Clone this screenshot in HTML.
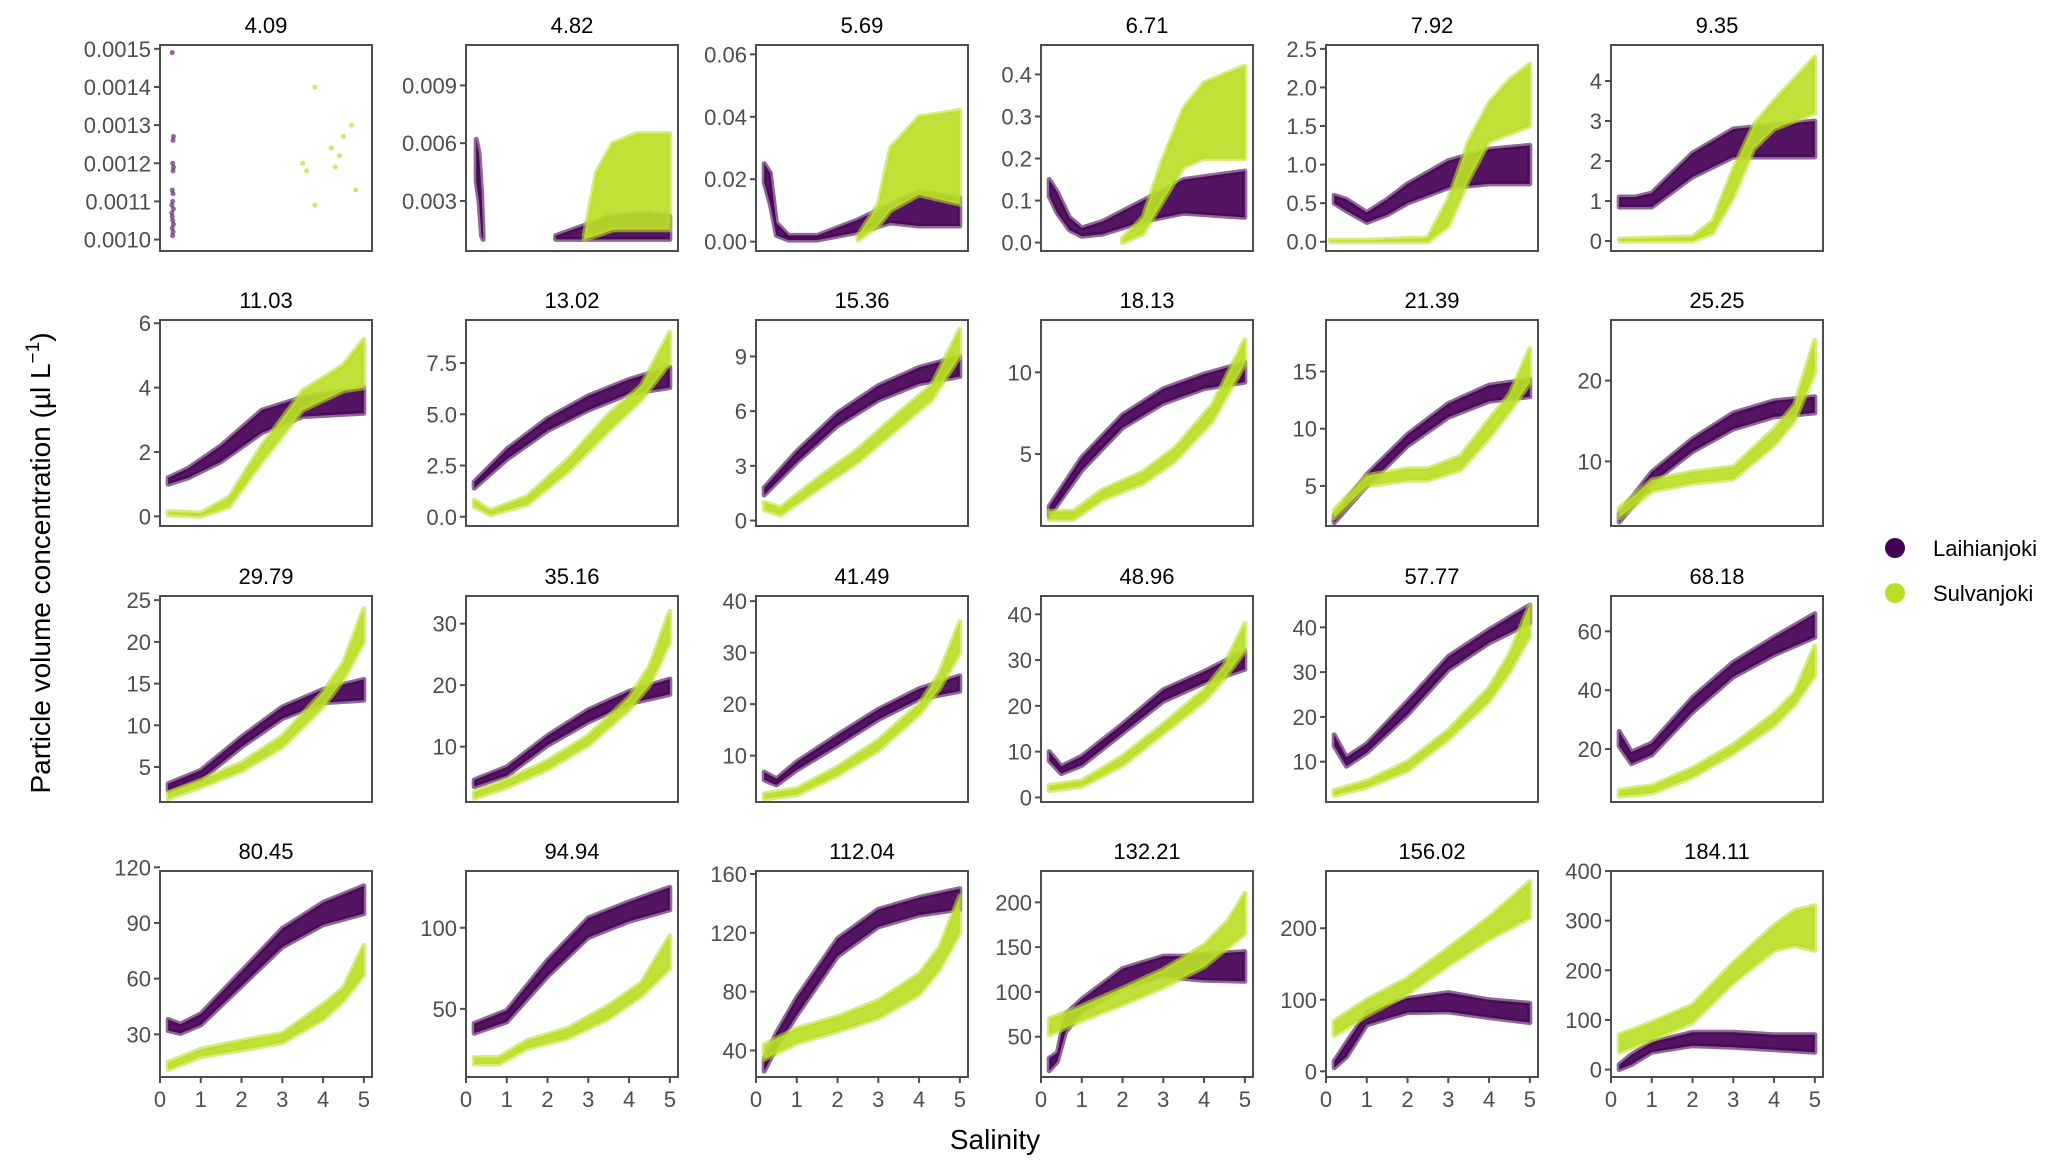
<!DOCTYPE html>
<html><head><meta charset="utf-8">
<style>
html,body{margin:0;padding:0;background:#fff;}
svg{display:block;}
text{font-family:"Liberation Sans",Arial,sans-serif;}
</style></head>
<body>
<svg id="chart" width="2067" height="1165" viewBox="0 0 2067 1165" xmlns="http://www.w3.org/2000/svg">
<rect width="2067" height="1165" fill="#fff"/>
<g id="panels"></g>
<text x="995" y="1149" font-size="28" text-anchor="middle" fill="#000">Salinity</text>
<text transform="translate(50,563) rotate(-90)" font-size="28" text-anchor="middle" fill="#000">Particle volume concentration (µl L<tspan dy="-11" font-size="19">−1</tspan><tspan dy="11">)</tspan></text>
<g>
<g><circle cx="1895" cy="548" r="10" fill="#440154"/><text x="1933" y="556" font-size="22" fill="#000">Laihianjoki</text></g>
<g><circle cx="1895" cy="593" r="10" fill="#BBDF27"/><text x="1933" y="601" font-size="22" fill="#000">Sulvanjoki</text></g>
</g>
</svg>
<script>
const panelTitles=["4.09","4.82","5.69","6.71","7.92","9.35","11.03","13.02","15.36","18.13","21.39","25.25","29.79","35.16","41.49","48.96","57.77","68.18","80.45","94.94","112.04","132.21","156.02","184.11"];
const yDomains=[[0.00097,0.00151],[0.0004,0.0111],[-0.003,0.063],[-0.02,0.47],[-0.12,2.55],[-0.25,4.9],[-0.3,6.1],[-0.45,9.6],[-0.3,11],[0.6,13.2],[1.5,19.5],[2,27.5],[0.8,25.5],[1,34.5],[1,41],[-1,44],[1,47],[2,72],[7,118],[8,135],[22,162],[5,235],[-8,280],[-15,400]];
const yTicks=[[0.0010,0.0011,0.0012,0.0013,0.0014,0.0015],[0.003,0.006,0.009],[0,0.02,0.04,0.06],[0,0.1,0.2,0.3,0.4],[0,0.5,1,1.5,2,2.5],[0,1,2,3,4],[0,2,4,6],[0,2.5,5,7.5],[0,3,6,9],[5,10],[5,10,15],[10,20],[5,10,15,20,25],[10,20,30],[10,20,30,40],[0,10,20,30,40],[10,20,30,40],[20,40,60],[30,60,90,120],[50,100],[40,80,120,160],[50,100,150,200],[0,100,200],[0,100,200,300,400]];
const yTickLabels=[["0.0010","0.0011","0.0012","0.0013","0.0014","0.0015"],["0.003","0.006","0.009"],["0.00","0.02","0.04","0.06"],["0.0","0.1","0.2","0.3","0.4"],["0.0","0.5","1.0","1.5","2.0","2.5"],["0","1","2","3","4"],["0","2","4","6"],["0.0","2.5","5.0","7.5"],["0","3","6","9"],["5","10"],["5","10","15"],["10","20"],["5","10","15","20","25"],["10","20","30"],["10","20","30","40"],["0","10","20","30","40"],["10","20","30","40"],["20","40","60"],["30","60","90","120"],["50","100"],["40","80","120","160"],["50","100","150","200"],["0","100","200"],["0","100","200","300","400"]];
const xTicks=[0,1,2,3,4,5];
// Panel 1 individual points [salinity, value]
const p1Laihianjoki=[[0.3,0.00149],[0.33,0.00127],[0.32,0.00126],[0.31,0.0012],[0.33,0.00119],[0.32,0.00118],[0.3,0.00113],[0.32,0.00112],[0.31,0.0011],[0.29,0.00109],[0.33,0.00108],[0.3,0.00106],[0.31,0.00105],[0.3,0.00103],[0.32,0.00102],[0.31,0.00101],[0.33,0.00104],[0.29,0.00107]];
const p1Sulvanjoki=[[3.8,0.0014],[3.5,0.0012],[3.6,0.00118],[4.2,0.00124],[4.5,0.00127],[4.7,0.0013],[4.4,0.00122],[4.3,0.00119],[3.8,0.00109],[4.8,0.00113]];
// Bands: per panel, list of segments, each segment = [salinity, low, high] rows
const laihianjoki=[
[],
[[[0.25,0.004,0.0062],[0.32,0.003,0.0055],[0.38,0.0012,0.0035],[0.42,0.001,0.0013]],[[2.2,0.001,0.0012],[3,0.001,0.0018],[3.5,0.001,0.0022],[4.5,0.001,0.0024],[5,0.001,0.0022]]],
[[[0.2,0.019,0.025],[0.35,0.012,0.022],[0.5,0.002,0.006],[0.8,0.0005,0.002],[1.5,0.0005,0.002],[2.5,0.003,0.007],[3.3,0.006,0.012],[4,0.005,0.016],[5,0.005,0.014]]],
[[[0.2,0.11,0.15],[0.4,0.07,0.12],[0.7,0.03,0.06],[1,0.015,0.035],[1.5,0.02,0.05],[2.5,0.05,0.1],[3.5,0.07,0.15],[5,0.06,0.17]]],
[[[0.2,0.5,0.6],[0.5,0.4,0.55],[1,0.25,0.38],[1.5,0.35,0.55],[2,0.5,0.75],[3,0.7,1.05],[4,0.75,1.2],[5,0.75,1.25]]],
[[[0.2,0.85,1.1],[0.6,0.85,1.1],[1,0.85,1.2],[2,1.6,2.2],[3,2.1,2.8],[4,2.1,2.9],[5,2.1,3.0]]],
[[[0.2,1.0,1.2],[0.7,1.2,1.5],[1.5,1.7,2.2],[2.5,2.6,3.3],[3.5,3.1,3.7],[5,3.2,4.0]]],
[[[0.2,1.4,1.7],[1,2.8,3.3],[2,4.2,4.8],[3,5.2,5.9],[4,6.0,6.7],[5,6.3,7.3]]],
[[[0.2,1.4,1.8],[1,3.2,3.8],[2,5.2,5.9],[3,6.6,7.4],[4,7.5,8.4],[5,7.9,9.0]]],
[[[0.2,1.2,1.8],[1,4.0,4.8],[2,6.6,7.4],[3,8.1,9.0],[4,9.0,9.9],[5,9.4,10.6]]],
[[[0.2,1.8,2.4],[1,5.0,6.0],[2,8.5,9.5],[3,11,12.2],[4,12.4,13.8],[5,12.8,14.3]]],
[[[0.2,2.5,3.5],[1,7.3,8.7],[2,11.2,12.8],[3,14,16],[4,15.5,17.5],[5,16,18]]],
[[[0.2,2.2,3.0],[1,3.5,4.6],[2,7.4,8.6],[3,10.8,12.2],[4,12.7,14.3],[5,13,15.5]]],
[[[0.2,3.5,4.6],[1,5.3,6.7],[2,10.2,11.8],[3,14,16],[4,17,19],[5,18.5,21]]],
[[[0.2,5.3,6.8],[0.5,4.3,5.5],[1,7.2,8.8],[2,12,14],[3,17,19],[4,21,23],[5,22.5,25.5]]],
[[[0.2,8,10],[0.5,5.2,6.8],[1,7,9],[2,14,16],[3,21,23.5],[4,25,27.5],[5,28,32]]],
[[[0.2,13.5,16],[0.5,9,11],[1,12,14],[2,20.5,23.5],[3,30.5,33.5],[4,36.5,39.5],[5,41,45]]],
[[[0.2,21,26],[0.5,15,19],[1,18,22],[2,32.5,37.5],[3,44.5,49.5],[4,52,58],[5,58,66]]],
[[[0.2,32,38],[0.5,30.5,35.5],[1,35,41],[2,56,64],[3,77,87],[4,89,101],[5,95,110]]],
[[[0.2,35,41],[1,42,49],[2,70,80],[3,94,106],[4,104,116],[5,111,125]]],
[[[0.2,26,34],[0.5,42,52],[1,64,76],[2,104,116],[3,124,136],[4,132,144],[5,136,150]]],
[[[0.2,12,26],[0.4,22,32],[0.6,55,75],[1,78,92],[2,104,126],[3,118,140],[3.5,115,140],[4,113,142],[5,112,145]]],
[[[0.2,5,14],[0.5,20,40],[1,65,82],[2,82,102],[3,83,110],[4,75,100],[5,68,95]]],
[[[0.2,0,10],[0.5,10,30],[1,35,55],[2,48,75],[3,45,75],[4,40,70],[5,35,70]]]
];
const sulvanjoki=[
[],
[[[2.9,0.001,0.0012],[3.2,0.0012,0.0045],[3.6,0.0015,0.006],[4.2,0.0015,0.0065],[5,0.0015,0.0065]]],
[[[2.5,0.0005,0.002],[3,0.005,0.012],[3.3,0.01,0.03],[4,0.015,0.04],[5,0.012,0.042]]],
[[[2,0,0.01],[2.5,0.02,0.06],[3,0.1,0.2],[3.5,0.18,0.32],[4,0.2,0.38],[5,0.2,0.42]]],
[[[0.1,0,0.02],[1,0,0.02],[2.5,0,0.05],[3,0.2,0.55],[3.5,0.8,1.3],[4,1.3,1.8],[4.5,1.4,2.1],[5,1.5,2.3]]],
[[[0.2,0,0.05],[2,0,0.1],[2.5,0.2,0.5],[3,1.1,1.8],[3.5,2.3,2.9],[4,2.8,3.5],[5,3.2,4.6]]],
[[[0.2,0.05,0.15],[1,0.0,0.1],[1.7,0.3,0.6],[2.5,1.7,2.2],[3.5,3.3,3.9],[4.5,3.9,4.7],[5,4.0,5.5]]],
[[[0.2,0.5,0.8],[0.6,0.1,0.3],[1.5,0.6,1.0],[2.5,2.2,2.8],[3.5,4.2,5.0],[4.3,5.7,6.4],[5,7.5,9.0]]],
[[[0.2,0.6,1.0],[0.6,0.3,0.7],[1.5,1.7,2.3],[2.5,3.2,3.9],[3.5,5.1,5.9],[4.3,6.6,7.4],[5,9,10.5]]],
[[[0.2,1.0,1.5],[0.8,1.0,1.5],[1.5,2.2,2.8],[2.5,3.2,3.9],[3.3,4.6,5.4],[4.2,7.0,8.0],[5,10.5,12]]],
[[[0.2,2.2,2.9],[1,5.0,5.9],[2,5.5,6.5],[2.5,5.5,6.5],[3.3,6.4,7.6],[4,9.2,10.8],[4.5,11.5,13],[5,14,17]]],
[[[0.2,3,4.2],[1,6.3,7.7],[2,7.3,8.7],[3,7.8,9.3],[4,12,14],[4.5,15,17],[5,21,25]]],
[[[0.2,1.2,1.9],[1,2.6,3.4],[2,4.5,5.5],[3,7.4,8.7],[4,12.2,14],[4.5,15.5,17.5],[5,20,24]]],
[[[0.2,1.6,2.6],[1,3.4,4.6],[2,6.3,7.7],[3,10.2,11.8],[4,16,18],[4.5,20,23],[5,27,32]]],
[[[0.2,1.6,2.6],[1,2.4,3.6],[2,6.2,7.8],[3,11,13],[4,18,20],[4.5,23,26],[5,30,36]]],
[[[0.2,1.5,2.6],[1,2.4,3.6],[2,7,9],[3,14,16],[4,21,23.5],[4.5,26,29],[5,32,38]]],
[[[0.2,2.5,3.6],[1,4.3,5.7],[2,8,10],[3,15,17],[4,23.5,26.5],[4.5,30,34],[5,38,45]]],
[[[0.2,4,6],[1,5,7.5],[2,10.5,13.5],[3,18.5,21.5],[4,28,32],[4.5,35,39],[5,45,55]]],
[[[0.2,11,15],[1,18,22],[2,21.5,26.5],[3,25.5,30.5],[4,38,46],[4.5,48,55],[5,62,78]]],
[[[0.2,16,20],[0.8,16,20],[1.5,25.5,30.5],[2.5,32,38],[3.5,44,52],[4.3,58,66],[5,75,95]]],
[[[0.2,34,44],[1,45,55],[2,53,63],[3,62,74],[4,78,92],[4.5,95,110],[5,120,145]]],
[[[0.2,52,70],[1,68,84],[2,86,104],[3,105,125],[4,128,152],[4.6,150,180],[5,165,210]]],
[[[0.2,50,70],[1,78,100],[2,108,130],[3,148,172],[4,185,215],[5,215,265]]],
[[[0.2,35,70],[1,60,95],[2,95,130],[3,175,215],[4,240,290],[4.5,250,320],[5,240,330]]]
];
const xDomain=[0,5.2];

const NS="http://www.w3.org/2000/svg";
const colLeft=[160,466,756,1041,1326,1611], rowTop=[45,320,596,871], PW=212, PH=206;
const LCOL="#440154", SCOL="#BBDF27";
const root=document.getElementById('panels');
function mk(tag,attrs,parent){const e=document.createElementNS(NS,tag);for(const k in attrs)e.setAttribute(k,attrs[k]);if(parent)parent.appendChild(e);return e;}

panelTitles.forEach((title,i)=>{
  const c=i%6,r=Math.floor(i/6);
  const x0=colLeft[c],y0=rowTop[r];
  const xs=v=>x0+(v-xDomain[0])/(xDomain[1]-xDomain[0])*PW;
  const yd=yDomains[i];
  const ys=v=>y0+PH-(v-yd[0])/(yd[1]-yd[0])*PH;
  const g=mk('g',{},root);
  
  
  const t=mk('text',{x:x0+PW/2,y:y0-12,'font-size':22,'text-anchor':'middle',fill:'#000'},g);
  t.textContent=title;
  
  
  const cp=mk('clipPath',{id:'cp'+i},g);
  mk('rect',{x:x0,y:y0,width:PW,height:PH},cp);
  const marks=mk('g',{'clip-path':'url(#cp'+i+')'},g);
  
  
  function band(segs,col,name){
    segs.forEach(seg=>{
      let d='M'+seg.map(p=>xs(p[0]).toFixed(1)+','+ys(p[2]).toFixed(1)).join('L');
      d+='L'+seg.slice().reverse().map(p=>xs(p[0]).toFixed(1)+','+ys(p[1]).toFixed(1)).join('L')+'Z';
      const p=mk('path',{d:d,fill:col,stroke:col,'stroke-width':5,'stroke-linejoin':'round','fill-opacity':0.92,'stroke-opacity':0.6},marks);
      
      
    });
  }
  band(laihianjoki[i],LCOL,'laihianjoki-points');
  band(sulvanjoki[i],SCOL,'sulvanjoki-points');
  if(i===0){
    p1Laihianjoki.forEach(p=>{const e=mk('circle',{cx:xs(p[0]),cy:ys(p[1]),r:2.5,fill:LCOL,'fill-opacity':0.6},marks);
      
      });
    p1Sulvanjoki.forEach(p=>{const e=mk('circle',{cx:xs(p[0]),cy:ys(p[1]),r:2.5,fill:SCOL,'fill-opacity':0.7},marks);
      
      });
  }
  const fr=mk('rect',{x:x0,y:y0,width:PW,height:PH,fill:'none',stroke:'#4d4d4d','stroke-width':2},g);
  
  
  const ya=mk('g',{},g);
  
  
  yTicks[i].forEach((v,k)=>{
    const y=ys(v);
    mk('line',{x1:x0-6,x2:x0,y1:y,y2:y,stroke:'#4d4d4d','stroke-width':2},ya);
    const tl=mk('text',{x:x0-9,y:y+8,'font-size':22,'text-anchor':'end',fill:'#4d4d4d'},ya);
    tl.textContent=yTickLabels[i][k];
  });
  if(r===3){
    const xa=mk('g',{},g);
    
    
    xTicks.forEach(v=>{
      const x=xs(v);
      mk('line',{x1:x,x2:x,y1:y0+PH,y2:y0+PH+6,stroke:'#4d4d4d','stroke-width':2},xa);
      const tl=mk('text',{x:x,y:y0+PH+30,'font-size':22,'text-anchor':'middle',fill:'#4d4d4d'},xa);
      tl.textContent=String(v);
    });
  }
});
</script>
</body></html>
